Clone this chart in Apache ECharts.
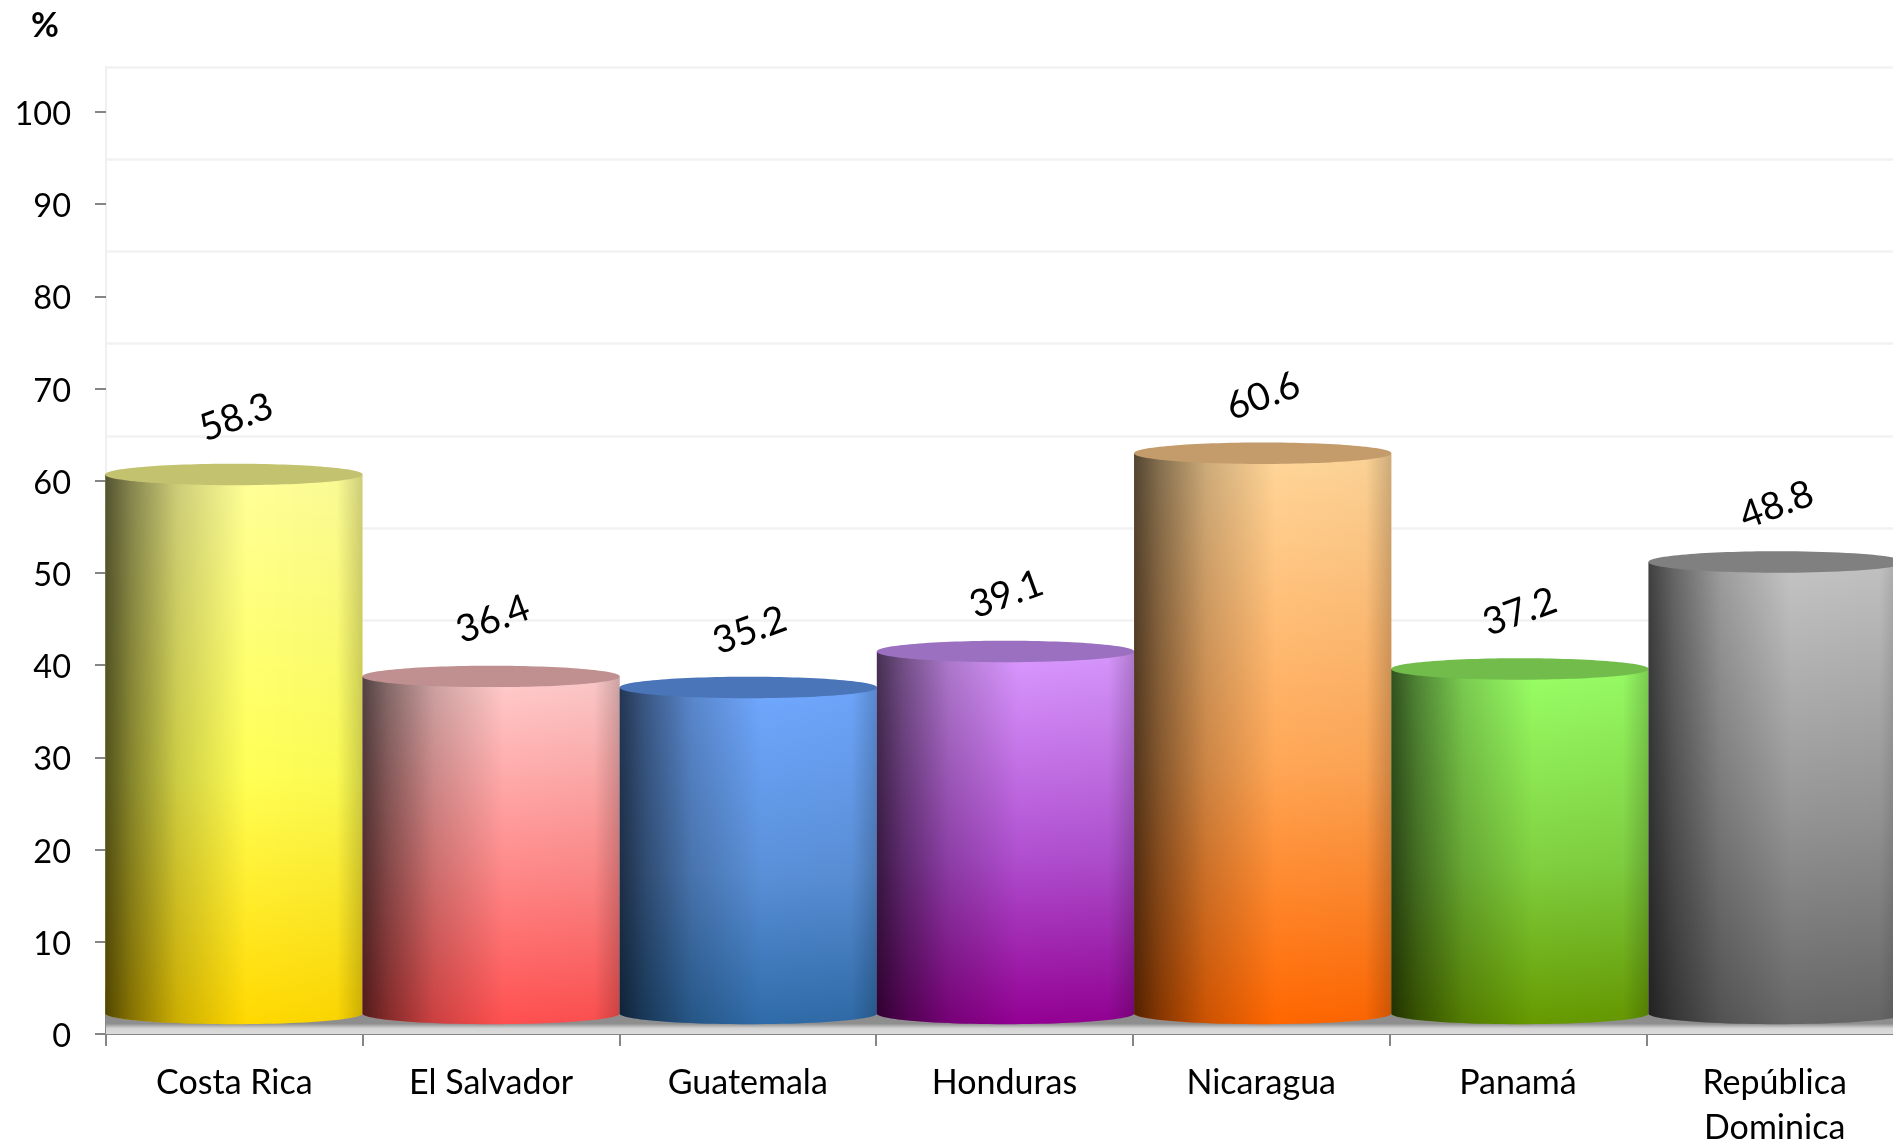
<!DOCTYPE html>
<html>
<head>
<meta charset="utf-8">
<style>html,body{margin:0;padding:0;background:#fff;overflow:hidden}#c{width:1893px;height:1145px}</style>
<script src="https://cdn.jsdelivr.net/npm/echarts@6/dist/echarts.min.js"></script>
</head>
<body>
<div id="c"></div>
<script>
const categories = ['Costa Rica', 'El Salvador', 'Guatemala', 'Honduras', 'Nicaragua', 'Panamá', 'República\nDominica'];
const values = [58.3, 36.4, 35.2, 39.1, 60.6, 37.2, 48.8];
const yMin = 0, yMax = 100, yStep = 10;

const bodyTop = ['#ffff99', '#ffcccc', '#70a8ff', '#d999ff', '#ffd699', '#99ff66', '#c4c4c4'];
const bodyMid = ['#ffff55', '#ff8a8a', '#5a90d8', '#b04fd0', '#ffa655', '#80d040', '#949494'];
const bodyBottom = ['#ffd800', '#ff4f4f', '#2f6ba8', '#930093', '#ff6600', '#669900', '#666666'];
const capColor = ['#c3c36f', '#c09090', '#4a75b8', '#9b70c0', '#c49c6c', '#72bc4c', '#808080'];

const FONT = 'Lato';
const DEPTH = 20.5, RIM_DEPTH = 22, RY = 10.7;

function ellipsePts(cx, cy, rx, ry, from, to, n) {
  const pts = [];
  for (let i = 0; i <= n; i++) {
    const a = from + (to - from) * i / n;
    pts.push([cx + rx * Math.cos(a), cy + ry * Math.sin(a)]);
  }
  return pts;
}

function renderFloor(params, api) {
  const p = api.coord([api.value(0), 0]);
  const w = api.size([1, 0])[0];
  return {
    type: 'rect',
    shape: { x: p[0] - w / 2, y: p[1] - DEPTH, width: w + 1, height: DEPTH },
    style: {
      fill: new echarts.graphic.LinearGradient(0, 0, 0, 1, [
        { offset: 0, color: '#8c8c8c' },
        { offset: 0.5, color: '#8f8f8f' },
        { offset: 0.72, color: '#d4d4d4' },
        { offset: 1, color: '#dcdcdc' }
      ])
    }
  };
}

function renderCylinder(params, api) {
  const i = params.dataIndex;
  const val = api.value(1);
  const zero = api.coord([api.value(0), 0]);
  const top = api.coord([api.value(0), val]);
  const w = api.size([1, 0])[0];
  const cx = zero[0] - 0.5 + i * 0.5, rx = w / 2 + 0.3;
  const yBase = zero[1] - DEPTH, yTop = top[1] - RIM_DEPTH;
  const pts = [[cx - rx, yTop], [cx + rx, yTop]].concat(ellipsePts(cx, yBase, rx, RY, 0, Math.PI, 48));
  return {
    type: 'group',
    children: [
      {
        type: 'polygon', shape: { points: pts },
        style: {
          fill: new echarts.graphic.LinearGradient(0, 0, 0, 1, [
            { offset: 0, color: bodyTop[i] },
            { offset: 0.55, color: bodyMid[i] },
            { offset: 1, color: bodyBottom[i] }
          ])
        }
      },
      {
        type: 'polygon', shape: { points: pts },
        style: {
          fill: new echarts.graphic.LinearGradient(0, 0, 1, 0, [
            { offset: 0, color: 'rgba(0,0,0,0.68)' },
            { offset: 0.1, color: 'rgba(0,0,0,0.48)' },
            { offset: 0.28, color: 'rgba(0,0,0,0.2)' },
            { offset: 0.55, color: 'rgba(0,0,0,0)' },
            { offset: 0.9, color: 'rgba(0,0,0,0.02)' },
            { offset: 1, color: 'rgba(0,0,0,0.2)' }
          ])
        }
      },
      {
        type: 'ellipse', shape: { cx: cx, cy: yTop, rx: rx, ry: RY },
        style: { fill: capColor[i] }
      },
      {
        type: 'text', x: zero[0] + 2, y: top[1] - 79, rotation: 20 * Math.PI / 180,
        style: {
          text: val.toFixed(1), fontFamily: FONT, fontSize: 38, fill: '#000',
          textAlign: 'center', textVerticalAlign: 'middle'
        }
      }
    ]
  };
}

const chart = echarts.init(document.getElementById('c'), null, { renderer: 'canvas' });
chart.setOption({
  animation: false,
  backgroundColor: '#ffffff',
  title: {
    text: '%', left: 26, top: 4,
    textStyle: { fontFamily: FONT, fontSize: 34, fontWeight: 'bold', color: '#000' }
  },
  grid: [
    { left: 106, top: 112, width: 1797, height: 922, containLabel: false, outerBoundsMode: 'none' },
    { left: 106, top: 67, width: 1797, height: 922, containLabel: false, outerBoundsMode: 'none' }
  ],
  xAxis: [
    {
      type: 'category', gridIndex: 0, data: categories,
      axisLine: { lineStyle: { color: '#868686', width: 2 } },
      axisTick: { show: true, alignWithLabel: false, length: 12, lineStyle: { color: '#868686', width: 2 } },
      axisLabel: { interval: 0, margin: 27, color: '#000', fontFamily: FONT, fontSize: 34, lineHeight: 45, hideOverlap: false },
      splitLine: { show: false }
    },
    {
      type: 'category', gridIndex: 1, data: categories, show: false
    }
  ],
  yAxis: [
    {
      type: 'value', gridIndex: 0, min: yMin, max: yMax, interval: yStep,
      axisLine: { show: true, lineStyle: { color: '#868686', width: 2 } },
      axisTick: { show: true, length: 11, lineStyle: { color: '#868686', width: 2 } },
      axisLabel: { margin: 35, color: '#000', fontFamily: FONT, fontSize: 32.5, verticalAlign: 'top', lineHeight: 5, showMinLabel: true, showMaxLabel: true },
      splitLine: { show: false }
    },
    {
      type: 'value', gridIndex: 1, min: yMin, max: yMax, interval: yStep,
      axisLine: { show: true, lineStyle: { color: '#f0f0f0', width: 2 } },
      axisTick: { show: false },
      axisLabel: { show: false },
      splitLine: { show: true, lineStyle: { color: '#f2f2f2', width: 2.5 } }
    }
  ],
  series: [
    {
      type: 'custom', name: 'floor', xAxisIndex: 0, yAxisIndex: 0, clip: false, z: 1,
      silent: true, renderItem: renderFloor,
      encode: { x: 0, y: 1 },
      data: categories.map((c, i) => [i, 0])
    },
    {
      type: 'custom', name: 'values', xAxisIndex: 0, yAxisIndex: 0, clip: false, z: 3,
      renderItem: renderCylinder,
      encode: { x: 0, y: 1 },
      data: values.map((v, i) => [i, v])
    }
  ]
});
</script>
</body>
</html>
